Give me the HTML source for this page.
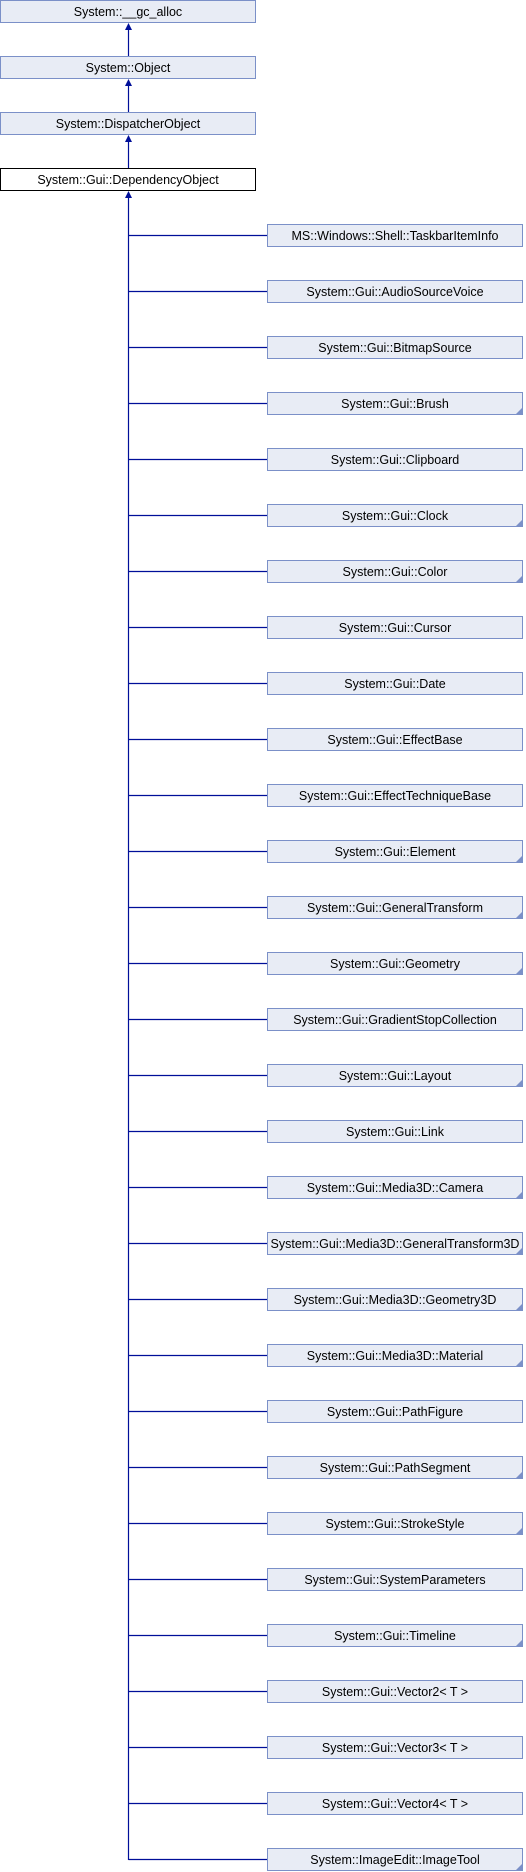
<!DOCTYPE html>
<html><head><meta charset="utf-8"><style>
html,body{margin:0;padding:0;background:#fff;width:526px;height:1872px;overflow:hidden}
svg text{font-family:"Liberation Sans",sans-serif;font-size:12.5px;fill:#000;text-anchor:middle}
</style></head><body>
<svg width="526" height="1872" xmlns="http://www.w3.org/2000/svg">
<defs>
<g id="fold"><polygon points="0,0 -6,0 0,-6" fill="#7b90c8"/></g>
</defs>
<g fill="#e8ecf5" stroke="#7b90c8" stroke-width="1">
<rect x="0.5" y="0.5" width="255" height="22"/>
<rect x="0.5" y="56.5" width="255" height="22"/>
<rect x="0.5" y="112.5" width="255" height="22"/>
</g>
<rect x="0.5" y="168.5" width="255" height="22" fill="#fff" stroke="#000"/>
<g stroke="#000f99" stroke-width="1.2" fill="none">
<line x1="128.5" y1="56" x2="128.5" y2="28"/>
<line x1="128.5" y1="112" x2="128.5" y2="84"/>
<line x1="128.5" y1="168" x2="128.5" y2="140"/>
<line x1="128.5" y1="1860" x2="128.5" y2="196"/>
</g>
<g fill="#000f99">
<polygon points="128.5,23 125,30 132,30"/>
<polygon points="128.5,79 125,86 132,86"/>
<polygon points="128.5,135 125,142 132,142"/>
<polygon points="128.5,191 125,198 132,198"/>
</g>
<text x="128" y="16">System::__gc_alloc</text>
<text x="128" y="72">System::Object</text>
<text x="128" y="128">System::DispatcherObject</text>
<text x="128" y="184">System::Gui::DependencyObject</text>
<g id="kids"></g>
</svg>
<script>
var names=["MS::Windows::Shell::TaskbarItemInfo","System::Gui::AudioSourceVoice","System::Gui::BitmapSource","System::Gui::Brush","System::Gui::Clipboard","System::Gui::Clock","System::Gui::Color","System::Gui::Cursor","System::Gui::Date","System::Gui::EffectBase","System::Gui::EffectTechniqueBase","System::Gui::Element","System::Gui::GeneralTransform","System::Gui::Geometry","System::Gui::GradientStopCollection","System::Gui::Layout","System::Gui::Link","System::Gui::Media3D::Camera","System::Gui::Media3D::GeneralTransform3D","System::Gui::Media3D::Geometry3D","System::Gui::Media3D::Material","System::Gui::PathFigure","System::Gui::PathSegment","System::Gui::StrokeStyle","System::Gui::SystemParameters","System::Gui::Timeline","System::Gui::Vector2< T >","System::Gui::Vector3< T >","System::Gui::Vector4< T >","System::ImageEdit::ImageTool"];
var folded={3:1,5:1,6:1,11:1,12:1,13:1,15:1,17:1,18:1,19:1,20:1,22:1,23:1,25:1,29:1};
var s="";
for(var i=0;i<names.length;i++){
var y=224+56*i;
s+='<line x1="128.5" y1="'+(y+11.5)+'" x2="267" y2="'+(y+11.5)+'" stroke="#000f99" stroke-width="1.2"/>';
s+='<rect x="267.5" y="'+(y+0.5)+'" width="255" height="22" fill="#e8ecf5" stroke="#7b90c8"/>';
if(folded[i]) s+='<polygon points="522,'+(y+16)+' 522,'+(y+22)+' 516,'+(y+22)+'" fill="#7b90c8"/>';
var t=names[i].replace(/</g,"&lt;").replace(/>/g,"&gt;");
s+='<text x="395" y="'+(y+16)+'">'+t+'</text>';
}
document.getElementById("kids").outerHTML='<g>'+s+'</g>';
</script>
</body></html>
